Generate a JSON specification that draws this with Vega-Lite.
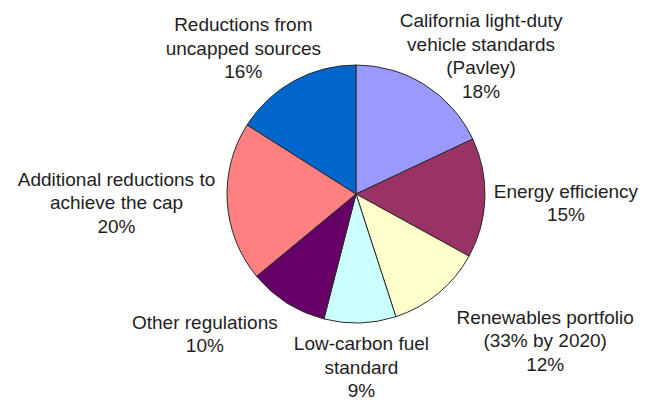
{
  "$schema": "https://vega.github.io/schema/vega-lite/v6.json",
  "autosize": {"type": "none"},
  "width": 598,
  "height": 388,
  "padding": {"left": 57, "top": 0, "right": 0, "bottom": 15},
  "background": "white",
  "config": {"view": {"stroke": null}},
  "data": {
    "values": [
      {"i": 1, "cat": "California light-duty vehicle standards (Pavley)", "value": 18, "label": ["California light-duty", "vehicle standards", "(Pavley)", "18%"]},
      {"i": 2, "cat": "Energy efficiency", "value": 15, "label": ["Energy efficiency", "15%"]},
      {"i": 3, "cat": "Renewables portfolio (33% by 2020)", "value": 12, "label": ["Renewables portfolio", "(33% by 2020)", "12%"]},
      {"i": 4, "cat": "Low-carbon fuel standard", "value": 9, "label": ["Low-carbon fuel", "standard", "9%"]},
      {"i": 5, "cat": "Other regulations", "value": 10, "label": ["Other regulations", "10%"]},
      {"i": 6, "cat": "Additional reductions to achieve the cap", "value": 20, "label": ["Additional reductions to", "achieve the cap", "20%"]},
      {"i": 7, "cat": "Reductions from uncapped sources", "value": 16, "label": ["Reductions from", "uncapped sources", "16%"]}
    ]
  },
  "encoding": {
    "theta": {"field": "value", "type": "quantitative", "stack": true},
    "order": {"field": "i", "type": "quantitative", "sort": "ascending"}
  },
  "layer": [
    {
      "mark": {"type": "arc", "outerRadius": 129, "stroke": "#2a2a2a", "strokeWidth": 1},
      "encoding": {
        "color": {
          "field": "cat", "type": "nominal", "legend": null,
          "scale": {
            "domain": ["California light-duty vehicle standards (Pavley)", "Energy efficiency", "Renewables portfolio (33% by 2020)", "Low-carbon fuel standard", "Other regulations", "Additional reductions to achieve the cap", "Reductions from uncapped sources"],
            "range": ["#9999FF", "#993366", "#FFFFCC", "#CCFFFF", "#660066", "#FF8080", "#0066CC"]
          }
        }
      }
    },
    {
      "mark": {"type": "text", "radius": 183, "dx": 27, "dy": -18, "font": "Liberation Sans", "fontSize": 19, "lineHeight": 23.5, "color": "#1e1e1e", "align": "center", "baseline": "middle"},
      "encoding": {"detail": {"field": "cat"}, "text": {"condition": {"test": "datum.i === 1", "field": "label"}, "value": ""}}
    },
    {
      "mark": {"type": "text", "radius": 210, "dx": 0, "dy": -9, "font": "Liberation Sans", "fontSize": 19, "lineHeight": 23.5, "color": "#1e1e1e", "align": "center", "baseline": "middle"},
      "encoding": {"detail": {"field": "cat"}, "text": {"condition": {"test": "datum.i === 2", "field": "label"}, "value": ""}}
    },
    {
      "mark": {"type": "text", "radius": 234, "dx": 40, "dy": -56.5, "font": "Liberation Sans", "fontSize": 19, "lineHeight": 23.5, "color": "#1e1e1e", "align": "center", "baseline": "middle"},
      "encoding": {"detail": {"field": "cat"}, "text": {"condition": {"test": "datum.i === 3", "field": "label"}, "value": ""}}
    },
    {
      "mark": {"type": "text", "radius": 174, "dx": 0, "dy": -23.5, "font": "Liberation Sans", "fontSize": 19, "lineHeight": 23.5, "color": "#1e1e1e", "align": "center", "baseline": "middle"},
      "encoding": {"detail": {"field": "cat"}, "text": {"condition": {"test": "datum.i === 4", "field": "label"}, "value": ""}}
    },
    {
      "mark": {"type": "text", "radius": 200, "dx": -44, "dy": -40, "font": "Liberation Sans", "fontSize": 19, "lineHeight": 23.5, "color": "#1e1e1e", "align": "center", "baseline": "middle"},
      "encoding": {"detail": {"field": "cat"}, "text": {"condition": {"test": "datum.i === 5", "field": "label"}, "value": ""}}
    },
    {
      "mark": {"type": "text", "radius": 240, "dx": 0, "dy": -29.5, "font": "Liberation Sans", "fontSize": 19, "lineHeight": 23.5, "color": "#1e1e1e", "align": "center", "baseline": "middle"},
      "encoding": {"detail": {"field": "cat"}, "text": {"condition": {"test": "datum.i === 6", "field": "label"}, "value": ""}}
    },
    {
      "mark": {"type": "text", "radius": 182, "dx": -25, "dy": -9.5, "font": "Liberation Sans", "fontSize": 19, "lineHeight": 23.5, "color": "#1e1e1e", "align": "center", "baseline": "middle"},
      "encoding": {"detail": {"field": "cat"}, "text": {"condition": {"test": "datum.i === 7", "field": "label"}, "value": ""}}
    }
  ]
}
